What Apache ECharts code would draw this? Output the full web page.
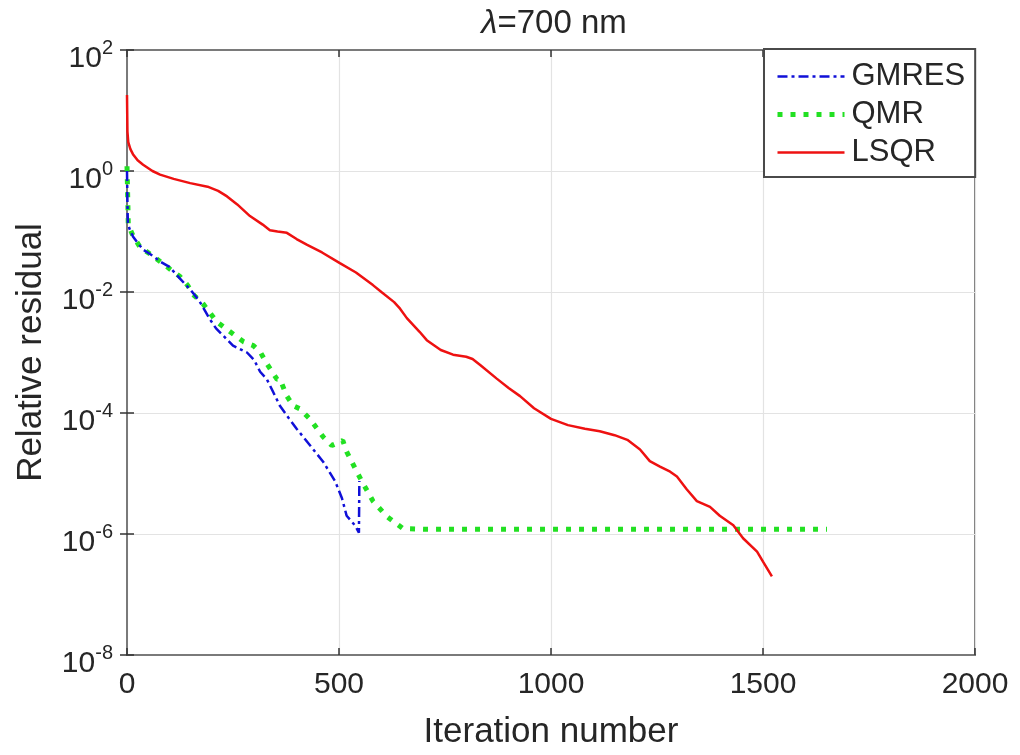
<!DOCTYPE html>
<html>
<head>
<meta charset="utf-8">
<script src="https://cdn.jsdelivr.net/npm/echarts@6/dist/echarts.min.js"></script>
<style>html,body{margin:0;padding:0;background:#fff}#c{width:1020px;height:755px}</style>
</head>
<body>
<div id="c"></div>
<script>
const titleText = '{i|λ}=700 nm';
const xName = 'Iteration number';
const yName = 'Relative residual';
const seriesNames = ['GMRES', 'QMR', 'LSQR'];

const gmres = [
  [0, 1.0], [1, 0.3], [2, 0.14], [6, 0.11], [14, 0.083], [25, 0.065], [38, 0.05], [60, 0.04],
  [78, 0.032], [100, 0.026], [125, 0.0166], [149, 0.011], [170, 0.0072], [196, 0.0035],
  [210, 0.0025], [227, 0.0019], [250, 0.0013], [283, 0.001], [300, 0.00075], [314, 0.00048],
  [330, 0.00036], [345, 0.00022], [361, 0.00013], [380, 8.5e-5], [400, 5.5e-5], [432, 2.9e-5],
  [463, 1.55e-5], [491, 7.4e-6], [507, 3.9e-6], [518, 2.0e-6], [538, 1.38e-6], [547, 1.05e-6],
  [548, 7.5e-6]
];
const qmr = [
  [0, 1.2], [1, 0.6], [2, 0.3], [3, 0.13], [14, 0.085], [31, 0.055], [60, 0.04], [78, 0.032],
  [101, 0.024], [125, 0.018], [144, 0.0126], [156, 0.0091], [180, 0.0063], [212, 0.0032],
  [251, 0.002], [275, 0.0015], [298, 0.0013], [315, 0.001], [330, 0.00065], [354, 0.00036],
  [361, 0.00036], [377, 0.00019], [392, 0.000132], [408, 0.000117], [432, 7.9e-5], [463, 4.0e-5],
  [483, 2.9e-5], [509, 3.5e-5], [518, 2.3e-5], [542, 1.07e-5], [554, 7.4e-6], [580, 3.5e-6],
  [613, 1.95e-6], [651, 1.23e-6], [700, 1.2e-6], [1000, 1.2e-6], [1651, 1.2e-6]
];
const lsqr = [
  [0, 18], [1, 4.5], [3, 3.0], [8, 2.3], [14, 1.9], [25, 1.5], [38, 1.27], [60, 1.0], [78, 0.87],
  [110, 0.74], [149, 0.63], [190, 0.55], [215, 0.47], [236, 0.38], [260, 0.28], [290, 0.18],
  [320, 0.13], [337, 0.105], [355, 0.1], [377, 0.095], [400, 0.075], [425, 0.06], [460, 0.045],
  [502, 0.03], [540, 0.021], [580, 0.013], [600, 0.01], [630, 0.0068], [644, 0.0053],
  [660, 0.0037], [690, 0.0022], [707, 0.0016], [740, 0.0011], [769, 0.00092], [800, 0.00085],
  [815, 0.00078], [833, 0.00062], [872, 0.00037], [900, 0.00026], [927, 0.00019], [960, 0.00012],
  [1000, 8e-5], [1040, 6.3e-5], [1080, 5.5e-5], [1115, 5.0e-5], [1150, 4.3e-5], [1180, 3.6e-5],
  [1210, 2.5e-5], [1233, 1.6e-5], [1257, 1.3e-5], [1281, 1.07e-5], [1297, 8.9e-6], [1320, 5.5e-6],
  [1344, 3.5e-6], [1375, 2.8e-6], [1398, 2.0e-6], [1430, 1.4e-6], [1453, 8.5e-7], [1486, 5.1e-7],
  [1500, 3.5e-7], [1521, 2.0e-7]
];

const FONT = '"Liberation Sans", Arial, Helvetica, sans-serif';
const TXT = '#262626';
const AX = '#7a7a7a';

const chart = echarts.init(document.getElementById('c'));
chart.setOption({
  backgroundColor: '#fff',
  animation: false,
  title: {
    text: titleText,
    left: 549, top: 2, textAlign: 'center',
    textStyle: {
      fontFamily: FONT, fontSize: 33, fontWeight: 'normal', color: TXT,
      rich: { i: { fontFamily: FONT, fontSize: 33, fontStyle: 'italic', color: TXT } }
    }
  },
  legend: {
    data: seriesNames,
    orient: 'vertical',
    left: 764, top: 49,
    itemWidth: 67, itemHeight: 14, itemGap: 7,
    padding: [12, 10, 9, 11],
    backgroundColor: '#fff',
    borderColor: '#4a4a4a', borderWidth: 2, borderRadius: 0,
    itemStyle: { color: 'rgba(0,0,0,0)', borderWidth: 0, opacity: 0 },
    lineStyle: { width: 'inherit', type: 'inherit', color: 'inherit' },
    textStyle: { fontFamily: FONT, fontSize: 31, color: TXT, padding: [0, 0, 0, 2] }
  },
  grid: { left: 127, right: 45, top: 50, bottom: 98, containLabel: false,
    show: true, borderColor: AX, borderWidth: 2 },
  xAxis: [{
    type: 'value', min: 0, max: 2000, interval: 500,
    name: xName, nameLocation: 'middle', nameGap: 60,
    nameTextStyle: { fontFamily: FONT, fontSize: 35, color: TXT },
    axisLine: { show: true, lineStyle: { color: AX, width: 2 } },
    axisTick: { show: true, inside: true, length: 7, lineStyle: { color: '#333', width: 1.5 } },
    axisLabel: { fontFamily: FONT, fontSize: 30, color: TXT, margin: 15,
      formatter: function (v) { return String(v); } },
    splitLine: { show: true, lineStyle: { color: '#e3e3e3', width: 1.2 } }
  }, {
    type: 'value', min: 0, max: 2000, interval: 500, position: 'top',
    axisLine: { show: true, lineStyle: { color: AX, width: 2 } },
    axisTick: { show: true, inside: true, length: 7, lineStyle: { color: '#333', width: 1.5 } },
    axisLabel: { show: false }, splitLine: { show: false }
  }],
  yAxis: [{
    type: 'log', logBase: 100, min: 1e-8, max: 100,
    name: yName, nameLocation: 'middle', nameGap: 78,
    nameTextStyle: { fontFamily: FONT, fontSize: 35, color: TXT },
    axisLine: { show: true, lineStyle: { color: AX, width: 2 } },
    axisTick: { show: true, inside: true, length: 7, lineStyle: { color: '#333', width: 1.5 } },
    axisLabel: {
      margin: 14,
      padding: [12, 0, 0, 0],
      formatter: function (v) { return '{b|10}{s|' + Math.round(Math.log10(v)) + '}'; },
      rich: {
        b: { fontFamily: FONT, fontSize: 30, color: TXT, verticalAlign: 'bottom', lineHeight: 36 },
        s: { fontFamily: FONT, fontSize: 20, color: TXT, verticalAlign: 'top', lineHeight: 20 }
      }
    },
    splitLine: { show: true, lineStyle: { color: '#e3e3e3', width: 1.2 } }
  }, {
    type: 'log', logBase: 100, min: 1e-8, max: 100, position: 'right',
    axisLine: { show: true, lineStyle: { color: AX, width: 2 } },
    axisTick: { show: true, inside: true, length: 7, lineStyle: { color: '#333', width: 1.5 } },
    axisLabel: { show: false }, splitLine: { show: false }
  }],
  series: [{
    name: seriesNames[0], type: 'line', data: gmres, showSymbol: false, symbol: 'none',
    lineStyle: { color: '#1010d8', width: 2.5, type: [10, 4, 3, 4], cap: 'butt' },
    itemStyle: { color: '#1010d8' }, z: 3
  }, {
    name: seriesNames[1], type: 'line', data: qmr, showSymbol: false, symbol: 'none',
    lineStyle: { color: '#22e022', width: 5, type: [5, 8], cap: 'butt' },
    itemStyle: { color: '#22e022' }, z: 2
  }, {
    name: seriesNames[2], type: 'line', data: lsqr, showSymbol: false, symbol: 'none',
    lineStyle: { color: '#ee1111', width: 2.5, type: 'solid' },
    itemStyle: { color: '#ee1111' }, z: 4
  }]
});
</script>
</body>
</html>
